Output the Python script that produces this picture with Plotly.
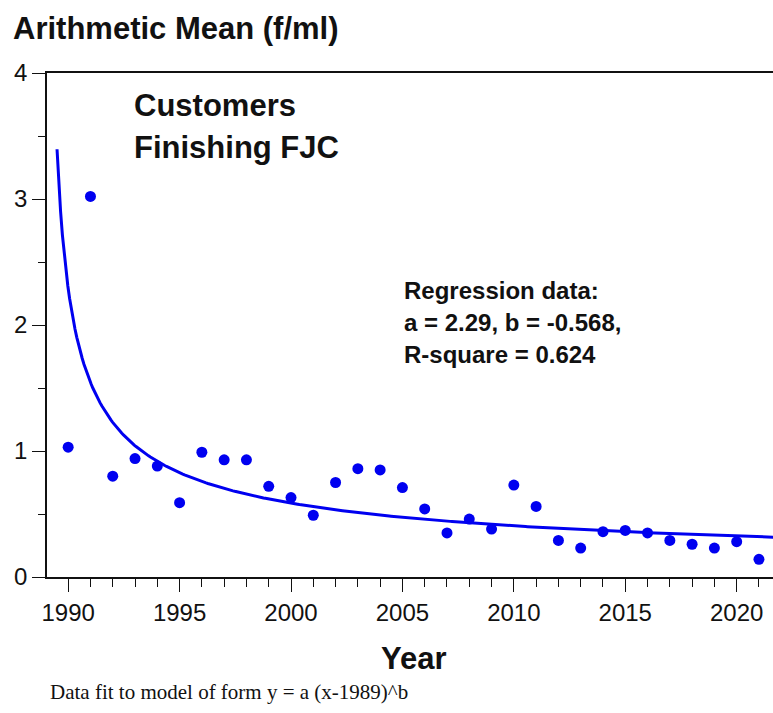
import numpy as np
import plotly.graph_objects as go

# Annual arithmetic mean fibre concentrations (f/ml)
years = list(range(1990, 2022))
mean_fml = [1.03, 3.02, 0.80, 0.94, 0.88, 0.59, 0.99, 0.93, 0.93, 0.72,
            0.63, 0.49, 0.75, 0.86, 0.85, 0.71, 0.54, 0.35, 0.46, 0.38,
            0.73, 0.56, 0.29, 0.23, 0.36, 0.37, 0.35, 0.29, 0.26, 0.23,
            0.28, 0.14]

# Power-law fit y = a (x - 1989)^b
fit_a = 2.29
fit_b = -0.568
fit_r2 = 0.624
fit_origin = 1989
fit_start, fit_end = 1989.5, 2021.65

x_range = [1989.05, 2021.63]
y_range = [0, 4]

W, H = 773, 713
L, R, T, B = 47, 0, 73, 136
pw, ph = W - L - R, H - T - B


def px(xp):
    return (xp - L) / pw


def py(yp):
    return (H - B - yp) / ph


fx = np.linspace(fit_start, fit_end, 400)
fy = fit_a * (fx - fit_origin) ** fit_b

blue = "#0000f0"

fig = go.Figure()
fig.add_trace(go.Scatter(x=fx, y=fy, mode="lines",
                         line=dict(color=blue, width=3), hoverinfo="skip"))
fig.add_trace(go.Scatter(x=years, y=mean_fml, mode="markers",
                         marker=dict(color=blue, size=11, line=dict(width=0))))

axis_font = dict(family="Arial, Liberation Sans", size=24, color="#111")
fig.update_xaxes(range=x_range, showgrid=False, zeroline=False,
                 showline=True, linecolor="#111", linewidth=1.5, mirror=True,
                 ticks="outside", ticklen=13, tickwidth=1.2, tickcolor="#111",
                 tick0=1990, dtick=5, tickfont=axis_font,
                 minor=dict(ticks="outside", ticklen=8, dtick=1, tick0=1990,
                            tickcolor="#111", tickwidth=1))
fig.update_yaxes(range=y_range, showgrid=False, zeroline=False,
                 showline=True, linecolor="#111", linewidth=1.5,
                 ticks="outside", ticklen=13, tickwidth=1.2, tickcolor="#111",
                 dtick=1, tickfont=axis_font,
                 minor=dict(ticks="outside", ticklen=7, dtick=0.5,
                            tickcolor="#111", tickwidth=1))

bold = dict(family="Arial, Liberation Sans", color="#111")
ann = []
ann.append(dict(text="<b>Arithmetic Mean (f/ml)</b>", x=px(11), y=py(28),
                xanchor="left", yanchor="middle",
                font=dict(size=31, **bold)))
ann.append(dict(text="<b>Customers</b>", x=px(132), y=py(105),
                xanchor="left", yanchor="middle", font=dict(size=31, **bold)))
ann.append(dict(text="<b>Finishing FJC</b>", x=px(132), y=py(147),
                xanchor="left", yanchor="middle", font=dict(size=31, **bold)))
reg_lines = ["Regression data:",
             f"a = {fit_a:.2f}, b = {fit_b:.3f},",
             f"R-square = {fit_r2:.3f}"]
for i, t in enumerate(reg_lines):
    ann.append(dict(text=f"<b>{t}</b>", x=px(402), y=py(290 + 32 * i),
                    xanchor="left", yanchor="middle",
                    font=dict(size=24, **bold)))
ann.append(dict(text="<b>Year</b>", x=px(414), y=py(658),
                xanchor="center", yanchor="middle", font=dict(size=31, **bold)))
ann.append(dict(text="Data fit to model of form y = a (x-1989)^b",
                x=px(48), y=py(692), xanchor="left", yanchor="middle",
                font=dict(family="Liberation Serif, Times New Roman", size=21,
                          color="#111")))
for a in ann:
    a.update(xref="paper", yref="paper", showarrow=False)

fig.update_layout(width=W, height=H, margin=dict(l=L, r=R, t=T, b=B),
                  paper_bgcolor="white", plot_bgcolor="white",
                  showlegend=False, annotations=ann)

fig.write_html("out.html")
